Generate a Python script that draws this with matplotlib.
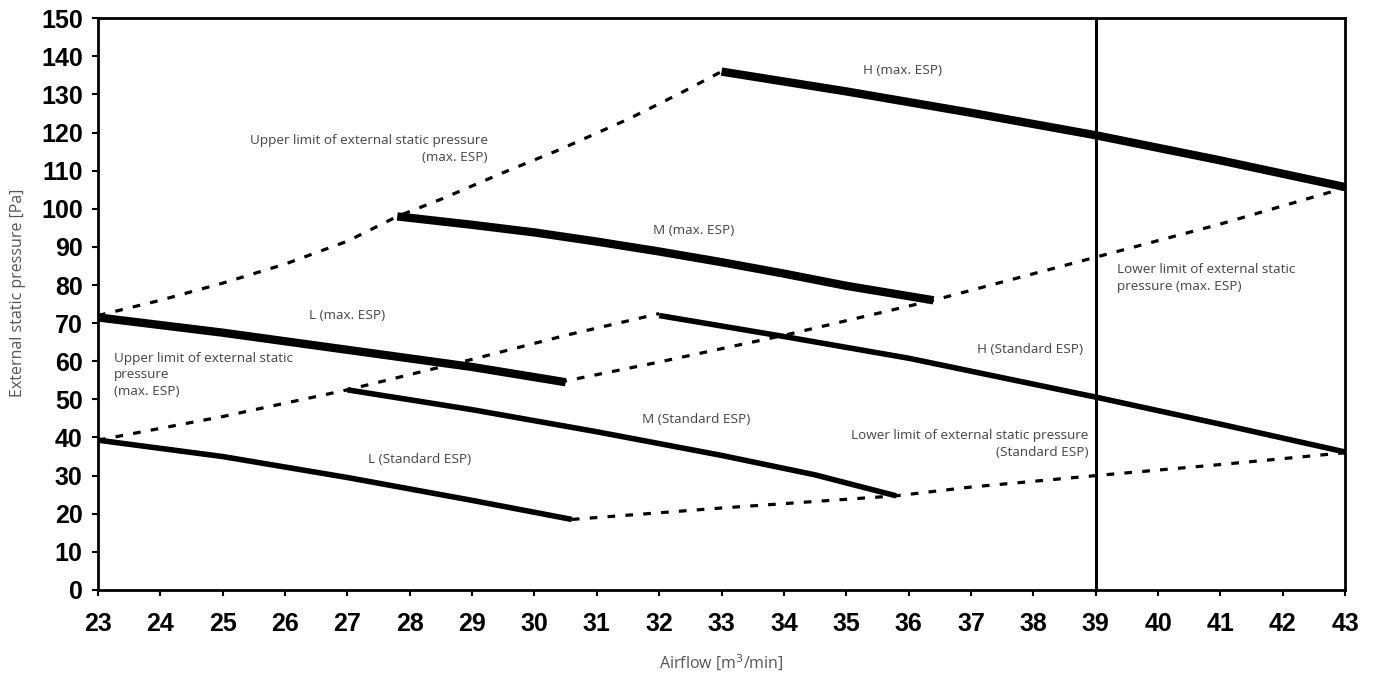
import numpy as np
import matplotlib.pyplot as plt

# Fan curves: airflow [m3/min] -> ESP [Pa]
h_max_x = [33, 35, 37, 39, 41, 43]
h_max_y = [136, 130.8, 125.2, 119.3, 112.7, 105.7]
m_max_x = [27.8, 29, 30, 31, 32, 33, 34, 35, 36.4]
m_max_y = [98, 95.8, 93.8, 91.4, 88.8, 86, 83, 79.8, 76]
l_max_x = [23, 25, 27, 29, 30.5]
l_max_y = [71.5, 67.5, 63, 58.5, 54.5]

h_std_x = [32, 34, 36, 38, 39, 41, 43]
h_std_y = [72, 66.5, 60.8, 54, 50.6, 43.5, 36.2]
m_std_x = [27, 29, 31, 33, 34.5, 35.8]
m_std_y = [52.5, 47.3, 41.5, 35.3, 30.2, 24.7]
l_std_x = [23, 25, 27, 29, 30.6]
l_std_y = [39.3, 35, 29.5, 23.5, 18.5]

# limit lines (dashed)
upper_max_x = [23, 24, 25, 26, 27, 27.8, 28.5, 29.5, 30.4, 31.5, 32.3, 33]
upper_max_y = [72, 76, 80.5, 85.5, 91.5, 98, 102.5, 109.5, 115.5, 123.5, 130, 136]
lower_max_x = [30.4, 32, 34, 36.4, 39, 41, 43]
lower_max_y = [54.5, 59.8, 66.8, 76, 87.3, 96, 105.5]
upper_std_x = [23, 25, 27, 29, 30.5, 32]
upper_std_y = [39.3, 45.5, 52.5, 60.5, 66.8, 72.5]
lower_std_x = [30.6, 33, 35.8, 37, 39, 41, 43]
lower_std_y = [18.5, 21.5, 24.7, 27, 30, 32.9, 36]

fig = plt.figure(figsize=(13.78, 6.75), dpi=100)
ax = fig.add_axes([0.0711, 0.126, 0.905, 0.847])

dash = (0, (2.4, 3.2))
for x, y in [(upper_max_x, upper_max_y), (lower_max_x, lower_max_y),
             (upper_std_x, upper_std_y), (lower_std_x, lower_std_y)]:
    ax.plot(x, y, color='black', lw=2.3, linestyle=dash)

for x, y in [(h_max_x, h_max_y), (m_max_x, m_max_y), (l_max_x, l_max_y)]:
    ax.plot(x, y, color='black', lw=6.0, solid_capstyle='butt', solid_joinstyle='round')
for x, y in [(h_std_x, h_std_y), (m_std_x, m_std_y), (l_std_x, l_std_y)]:
    ax.plot(x, y, color='black', lw=4.0, solid_capstyle='butt', solid_joinstyle='round')

ax.axvline(39, color='black', lw=2.2)

ax.set_xlim(23, 43)
ax.set_ylim(0, 150)
ax.set_xticks(range(23, 44))
ax.set_yticks(range(0, 151, 10))
for s in ax.spines.values():
    s.set_linewidth(2)
ax.tick_params(direction='out', length=4, width=1.5)
ax.tick_params(axis='x', pad=12)
ax.tick_params(axis='y', pad=7)
for lab in ax.get_xticklabels() + ax.get_yticklabels():
    lab.set_fontfamily('Liberation Sans')
    lab.set_fontweight('bold')
    lab.set_fontsize(18)

gray = '#555555'
ax.set_xlabel('Airflow [m$^3$/min]', fontsize=11.5, color=gray, family='Open Sans', labelpad=12)
ax.set_ylabel('External static pressure [Pa]', fontsize=11.5, color=gray, family='Open Sans')
ax.yaxis.set_label_coords(-0.058, 0.52)

tkw = dict(fontsize=9.7, color='#444444', family='Open Sans')
ax.text(35.9, 136.4, 'H (max. ESP)', ha='center', va='center', **tkw)
ax.text(29.25, 115.7, 'Upper limit of external static pressure\n(max. ESP)', ha='right', va='center',
        multialignment='right', linespacing=1.35, **tkw)
ax.text(32.55, 94.4, 'M (max. ESP)', ha='center', va='center', **tkw)
ax.text(39.35, 81.8, 'Lower limit of external static\npressure (max. ESP)', ha='left', va='center',
        linespacing=1.35, **tkw)
ax.text(27.0, 71.9, 'L (max. ESP)', ha='center', va='center', **tkw)
ax.text(23.25, 56.4, 'Upper limit of external static\npressure\n(max. ESP)', ha='left', va='center',
        linespacing=1.35, **tkw)
ax.text(38.8, 63.0, 'H (Standard ESP)', ha='right', va='center', **tkw)
ax.text(32.6, 44.6, 'M (Standard ESP)', ha='center', va='center', **tkw)
ax.text(38.88, 38.3, 'Lower limit of external static pressure\n(Standard ESP)', ha='right', va='center',
        multialignment='right', linespacing=1.35, **tkw)
ax.text(28.15, 34.1, 'L (Standard ESP)', ha='center', va='center', **tkw)

fig.savefig('out.png', dpi=100)
